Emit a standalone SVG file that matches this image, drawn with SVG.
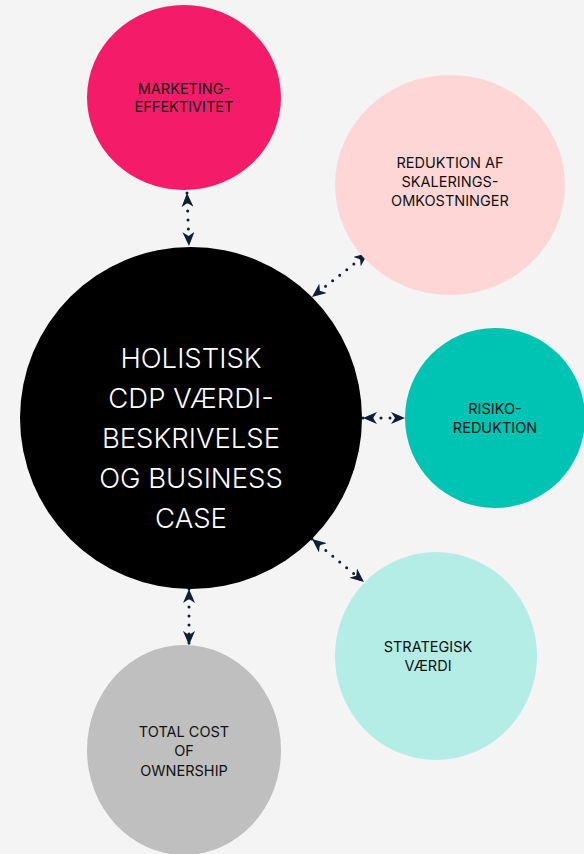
<svg xmlns="http://www.w3.org/2000/svg" width="584" height="854" viewBox="0 0 584 854">
<style>
.lbl{font-family:Inter,"Liberation Sans",sans-serif;font-size:14.5px;fill:#111;text-anchor:middle}
.big{font-family:Inter,"Liberation Sans",sans-serif;font-size:27.5px;font-weight:300;fill:#fff;text-anchor:middle}
.con{stroke:#0f1d36;stroke-width:3;stroke-linecap:round;stroke-dasharray:0 9;fill:none}
</style>
<defs>
<marker id="ah" viewBox="0 0 14 12" refX="14" refY="6" markerWidth="14" markerHeight="12" markerUnits="userSpaceOnUse" orient="auto-start-reverse">
<path d="M14,6 L0,0 L4,6 L0,12 Z" fill="#0f1d36"/>
</marker>
</defs>
<rect width="584" height="854" fill="#f4f4f4"/>
<g id="connectors">
<line class="con" x1="187" y1="193" x2="189" y2="246" marker-start="url(#ah)" marker-end="url(#ah)"/>
<line class="con" x1="368" y1="253" x2="312" y2="297" marker-start="url(#ah)" marker-end="url(#ah)"/>
<line class="con" x1="363" y1="418" x2="405" y2="418" marker-start="url(#ah)" marker-end="url(#ah)"/>
<line class="con" x1="312" y1="539" x2="364" y2="582" marker-start="url(#ah)" marker-end="url(#ah)"/>
<line class="con" x1="189" y1="589" x2="189" y2="645" marker-start="url(#ah)" marker-end="url(#ah)"/>
</g>
<g id="marketing">
<ellipse cx="184" cy="97.5" rx="97" ry="92.5" fill="#f41c69"/>
<text class="lbl" x="184" y="94">MARKETING-</text>
<text class="lbl" x="184" y="112">EFFEKTIVITET</text>
</g>
<g id="skalering">
<ellipse cx="450" cy="185" rx="115" ry="110" fill="#ffd6d6"/>
<text class="lbl" x="450" y="168">REDUKTION AF</text>
<text class="lbl" x="450" y="187">SKALERINGS-</text>
<text class="lbl" x="450" y="206">OMKOSTNINGER</text>
</g>
<g id="center">
<circle cx="191" cy="418" r="171" fill="#000"/>
<text class="big" x="191" y="368">HOLISTISK</text>
<text class="big" x="191" y="408">CDP VÆRDI-</text>
<text class="big" x="191" y="448">BESKRIVELSE</text>
<text class="big" x="191" y="488">OG BUSINESS</text>
<text class="big" x="191" y="528">CASE</text>
</g>
<g id="risiko">
<ellipse cx="495" cy="418" rx="90" ry="90" fill="#00c4b3"/>
<text class="lbl" x="495" y="414">RISIKO-</text>
<text class="lbl" x="495" y="433">REDUKTION</text>
</g>
<g id="strategisk">
<ellipse cx="436" cy="656" rx="101" ry="104" fill="#b3ede6"/>
<text class="lbl" x="428" y="652">STRATEGISK</text>
<text class="lbl" x="428" y="671">VÆRDI</text>
</g>
<g id="tco">
<ellipse cx="184" cy="750" rx="97" ry="105" fill="#bfbfbf"/>
<text class="lbl" x="184" y="737">TOTAL COST</text>
<text class="lbl" x="184" y="756">OF</text>
<text class="lbl" x="184" y="776">OWNERSHIP</text>
</g>
</svg>
